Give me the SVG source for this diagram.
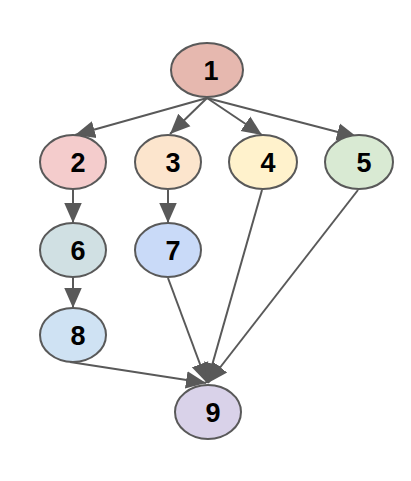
<svg xmlns="http://www.w3.org/2000/svg" width="411" height="481" viewBox="0 0 411 481">
<defs>
<style>
.n ellipse{stroke:#595959;stroke-width:2}
.n text{font-family:"Liberation Sans",Arial,sans-serif;font-weight:bold;font-size:27px;fill:#000;text-anchor:middle;dominant-baseline:central}
.e line{stroke:#595959;stroke-width:2;marker-end:url(#ah)}
</style>
<marker id="ah" markerUnits="userSpaceOnUse" markerWidth="20" markerHeight="20" viewBox="0 0 16 14" refX="16" refY="7" orient="auto">
<path d="M0,0 L16,7 L0,14 z" fill="#595959"/>
</marker>
</defs>
<rect width="411" height="481" fill="#fff"/>
<g id="edges" class="e">
<line x1="207" y1="98" x2="75" y2="135"/>
<line x1="207" y1="98" x2="170" y2="134"/>
<line x1="207" y1="98" x2="262" y2="135"/>
<line x1="207" y1="98" x2="357" y2="137"/>
<line x1="73" y1="189" x2="73" y2="223"/>
<line x1="73" y1="277" x2="73" y2="308"/>
<line x1="168" y1="190" x2="168" y2="223"/>
<line x1="168" y1="278" x2="207" y2="383"/>
<line x1="262" y1="190" x2="207" y2="383"/>
<line x1="358" y1="190" x2="208" y2="383"/>
<line x1="70" y1="362" x2="206" y2="383"/>
</g>
<g id="node1" class="n"><ellipse cx="207" cy="70" rx="36" ry="27" fill="#e6b8af"/><text x="211" y="71">1</text></g>
<g id="node2" class="n"><ellipse cx="73" cy="162" rx="33" ry="27" fill="#f4cccc"/><text x="78" y="163">2</text></g>
<g id="node3" class="n"><ellipse cx="168" cy="162" rx="33" ry="27" fill="#fce5cd"/><text x="173" y="163">3</text></g>
<g id="node4" class="n"><ellipse cx="263" cy="162" rx="34" ry="27" fill="#fff2cc"/><text x="268" y="163">4</text></g>
<g id="node5" class="n"><ellipse cx="359" cy="162" rx="34" ry="27" fill="#d9ead3"/><text x="364" y="163">5</text></g>
<g id="node6" class="n"><ellipse cx="73" cy="250" rx="33" ry="27" fill="#d0e0e3"/><text x="78" y="251">6</text></g>
<g id="node7" class="n"><ellipse cx="168" cy="250" rx="33" ry="27" fill="#c9daf8"/><text x="173" y="251">7</text></g>
<g id="node8" class="n"><ellipse cx="73" cy="335" rx="33" ry="27" fill="#cfe2f3"/><text x="78" y="336">8</text></g>
<g id="node9" class="n"><ellipse cx="208" cy="412" rx="33" ry="27" fill="#d9d2e9"/><text x="213" y="413">9</text></g>
</svg>
